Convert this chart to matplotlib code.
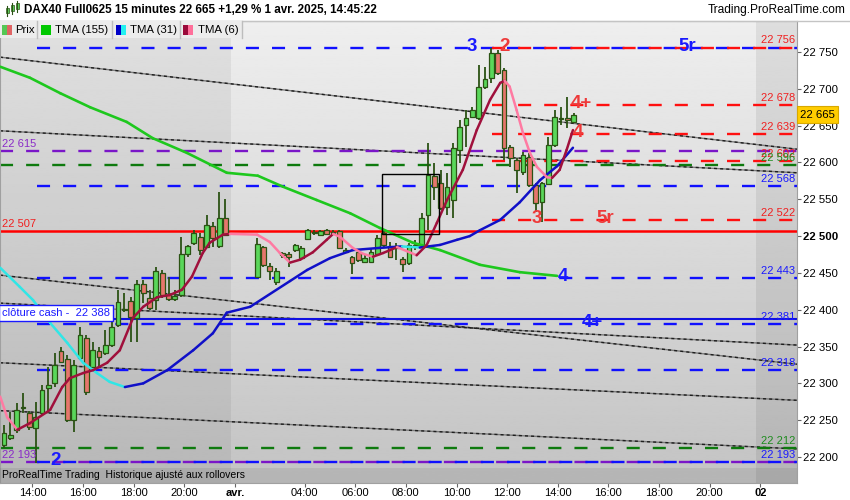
import numpy as np
import matplotlib
matplotlib.use("Agg")
import matplotlib.pyplot as plt
from matplotlib.patches import Rectangle
from matplotlib.lines import Line2D
from matplotlib.collections import LineCollection
import matplotlib.transforms as mtransforms

plt.rcParams["font.family"] = ["Liberation Sans", "DejaVu Sans"]
plt.rcParams["lines.scale_dashes"] = False

# 15 min bars: 0..35 = 31 Mar 13:00-21:45, 36.. = 1 Apr from 01:15 (first 4 empty)
opens = [22216, 22226, 22237, 22267, 22260, 22239, 22260, 22294, 22301, 22344,
         22333, 22250, 22335, 22362, 22322, 22344, 22341, 22352, 22379, 22400,
         22412, 22389, 22435, 22416, 22413, 22450, 22420, 22415, 22420, 22476,
         22491, 22499, 22485, 22514, 22487, 22525,
         None, None, None, None,
         22444, 22485, 22459, 22438, 22477, 22476, 22481, 22470, 22496, 22504,
         22501, 22508, 22505, 22507, 22478, 22472, 22478, 22465, 22465, 22476,
         22504, 22486, 22484, 22469, 22464, 22486, 22488, 22529, 22582, 22572,
         22540, 22549, 22617, 22651, 22662, 22660, 22702, 22715, 22748, 22726,
         22621, 22603, 22587, 22607, 22569, 22546, 22571, 22624, 22659, 22661,
         22655]
highs = [22243, 22261, 22273, 22287, 22262, 22275, 22298, 22322, 22341, 22349,
         22339, 22332, 22377, 22366, 22356, 22349, 22372, 22400, 22427, 22423,
         22417, 22440, 22440, 22427, 22458, 22454, 22445, 22427, 22499, 22488,
         22508, 22504, 22529, 22519, 22560, 22550,
         None, None, None, None,
         22497, 22487, 22463, 22456, 22478, 22478, 22489, 22486, 22510, 22508,
         22508, 22510, 22508, 22508, 22484, 22473, 22481, 22474, 22484, 22502,
         22508, 22492, 22491, 22472, 22491, 22495, 22531, 22626, 22599, 22590,
         22586, 22626, 22658, 22671, 22675, 22732, 22730, 22755, 22753, 22728,
         22624, 22606, 22614, 22613, 22572, 22573, 22635, 22671, 22675, 22689,
         22667]
lows = [22212, 22223, 22233, 22260, 22237, 22192, 22257, 22260, 22295, 22328,
        22248, 22234, 22332, 22284, 22321, 22322, 22339, 22349, 22376, 22397,
        22356, 22356, 22409, 22400, 22400, 22416, 22412, 22412, 22417, 22472,
        22488, 22474, 22484, 22485, 22484, 22500,
        None, None, None, None,
        22443, 22458, 22440, 22434, 22470, 22458, 22478, 22467, 22495, 22501,
        22500, 22501, 22501, 22482, 22477, 22449, 22465, 22463, 22463, 22474,
        22485, 22470, 22468, 22451, 22461, 22481, 22485, 22508, 22549, 22535,
        22529, 22525, 22599, 22621, 22660, 22658, 22700, 22708, 22719, 22603,
        22594, 22558, 22583, 22567, 22533, 22519, 22569, 22621, 22651, 22647,
        22654]
closes = [22233, 22230, 22264, 22268, 22241, 22254, 22291, 22298, 22325, 22329,
          22250, 22325, 22366, 22288, 22345, 22336, 22352, 22376, 22410, 22401,
          22390, 22435, 22423, 22402, 22452, 22420, 22415, 22419, 22476, 22487,
          22504, 22481, 22515, 22497, 22525, 22502,
          None, None, None, None,
          22489, 22461, 22453, 22452, 22474, 22472, 22488, 22484, 22508, 22505,
          22507, 22503, 22504, 22484, 22481, 22463, 22468, 22470, 22478, 22497,
          22488, 22472, 22487, 22462, 22488, 22488, 22525, 22583, 22567, 22538,
          22567, 22620, 22648, 22660, 22671, 22702, 22713, 22749, 22721, 22620,
          22606, 22590, 22610, 22569, 22545, 22572, 22624, 22662, 22661, 22658,
          22665]

# moving averages (bar position, value)
tma155_x = [-0.6, 4.1, 8.9, 13.6, 19.4, 23.5, 28.9, 35.2, 40.1, 44.1, 49.4, 54.7,
            59.4, 64.6, 68.9, 75.2, 81.5, 87.4]
tma155_y = [22730, 22715, 22694, 22675, 22655, 22633, 22613, 22586, 22582, 22567,
            22549, 22531, 22511, 22491, 22481, 22461, 22451, 22446]
tma31_x = [-0.6, 2.5, 4.6, 7.3, 10.0, 12.5, 14.7, 16.7, 19.1, 22.0, 25.8, 29.9,
           33.0, 35.2, 38.9, 45.2, 47.9, 51.5, 55.1, 59.4, 62.9, 65.7, 68.9, 71.6,
           73.6, 75.2, 78.4, 81.5, 84.7, 87.4, 89.9]
tma31_y = [22457, 22431, 22413, 22382, 22355, 22328, 22314, 22302, 22295, 22300,
           22318, 22345, 22368, 22396, 22404, 22439, 22454, 22470, 22481, 22484,
           22486, 22484.5, 22488, 22495, 22500, 22508, 22522, 22546, 22576, 22595,
           22620]
tma6_x = [-0.6, 0.5, 2.1, 4.1, 7.3, 9.2, 10.4, 12.5, 14.1, 16.3, 18.3, 20.4, 22.0,
          24.2, 26.2, 28.1, 29.7, 31.4, 32.5, 34.6, 35.7, 40.0, 42.0, 43.6, 45.2,
          46.8, 48.8, 51.0, 52.0, 53.1, 55.1, 56.7, 58.3, 59.9, 62.1, 64.1, 65.2,
          66.8, 68.4, 70.0, 72.5, 74.7, 76.8, 78.4, 79.1, 79.9, 81.0, 82.0, 83.1,
          84.2, 85.8, 86.6, 87.8, 88.9, 89.9]
tma6_y = [22282, 22254, 22237, 22246, 22264, 22295, 22307, 22314, 22318, 22328,
          22345, 22389, 22404, 22417, 22420, 22427, 22445, 22477, 22491, 22502,
          22503, 22502, 22492, 22477, 22464, 22468, 22478, 22495, 22503, 22499,
          22484, 22476, 22472, 22477, 22485, 22478, 22474, 22488, 22518, 22549,
          22590, 22644, 22685, 22708, 22711, 22703, 22671, 22640, 22613, 22594,
          22580, 22579, 22590, 22617, 22644]

# diagonal trend lines: value at left edge, value at right edge
trend_start = [22743, 22643, 22447, 22409, 22328, 22263]
trend_end = [22618, 22586, 22326, 22352, 22277, 22211]

# horizontal levels
blue_levels = [22756, 22568, 22443, 22381, 22318, 22193]
red_levels = [22756, 22678, 22639, 22602, 22522]
purple_levels = [22615, 22193]
green_levels = [22596, 22212]
pivot_level = 22507
cash_close = 22388
last_price = 22665

right_labels = [(22756, "r"), (22678, "r"), (22639, "r"), (22602, "r"), (22596, "g"),
                (22568, "b"), (22522, "r"), (22443, "b"), (22381, "b"),
                (22318, "b"), (22212, "g"), (22193, "b")]
left_labels = [(22615, "p"), (22507, "r"), (22193, "p")]
wave_labels = [("3", "b", 73.9, 22756), ("2", "r", 79.1, 22756), ("5r", "b", 108, 22756),
               ("4+", "r", 91.2, 22678), ("4", "r", 90.7, 22639), ("3", "r", 84.2, 22522),
               ("5r", "r", 95.0, 22522), ("4", "b", 88.3, 22443), ("4+", "b", 93.0, 22381),
               ("2", "b", 8.1, 22193)]

tick_bars = [4, 12, 20, 28, 36, 47, 55, 63, 71, 79, 87, 95, 103, 111, 119]
tick_labels = ["14:00", "16:00", "18:00", "20:00", "avr.", "04:00", "06:00", "08:00",
               "10:00", "12:00", "14:00", "16:00", "18:00", "20:00", "02"]
day_starts = [36, 119]

COL = {"r": "#f02020", "b": "#1a1aff", "g": "#1e8c1e", "p": "#8a2bc8"}

W, H = 850, 500
def fx(px):
    return px / W
def fy(py):
    return 1 - py / H

fig = plt.figure(figsize=(8.5, 5), dpi=100)
ax = fig.add_axes([0, fy(483), fx(797), fy(21) - fy(483)])
x0, x1 = -0.63, 125.3
y0, y1 = 22164.7, 22792.1
ax.set_xlim(x0, x1)
ax.set_ylim(y0, y1)

# background gradient + darker day bands
grad = np.linspace(0.935, 0.765, 256).reshape(-1, 1)
ax.imshow(grad, extent=[x0, x1, y0, y1], aspect="auto", cmap="gray",
          vmin=0, vmax=1, origin="upper", zorder=0)
ax.axvspan(x0, day_starts[0] - 0.1, color="black", alpha=0.06, lw=0, zorder=0.5)
ax.axvspan(day_starts[1] - 0.1, x1, color="black", alpha=0.07, lw=0, zorder=0.5)

# trend lines
for a, b in zip(trend_start, trend_end):
    ax.plot([x0, x1], [a, b], color="#7a7a7a", lw=1.0, zorder=1)
    ax.plot([x0, x1], [a, b], color="#1e1e1e", lw=1.0, dashes=(2.2, 2.2), zorder=1.1)

dash = (9.4, 9.4)
for v in purple_levels:
    ax.plot([x0, x1], [v, v], color="#7a16c8", lw=1.7, dashes=dash, zorder=2)
for v in green_levels:
    ax.plot([x0, x1], [v, v], color="#0e7a0e", lw=1.7, dashes=dash, zorder=2)
for v in blue_levels:
    ax.plot([5.2, x1], [v, v], color="#1010ff", lw=1.7, dashes=dash, zorder=2.1)
for v in red_levels:
    ax.plot([77.1, x1], [v, v], color="#ff1010", lw=1.7, dashes=dash, zorder=2.2)
ax.axhline(pivot_level, color="#ff0000", lw=1.8, zorder=2.3)
ax.axhline(cash_close, color="#1010e0", lw=1.5, zorder=2.3)

# candles
wick_col = "#2b5214"
for i, (o, h, l, c) in enumerate(zip(opens, highs, lows, closes)):
    if o is None:
        continue
    ax.plot([i, i], [l, h], color=wick_col, lw=1.3, zorder=3, solid_capstyle="butt")
    up = c >= o
    ax.add_patch(Rectangle((i - 0.38, min(o, c)), 0.76, max(abs(c - o), 1.0),
                           facecolor="#5ad75a" if up else "#e6766c",
                           edgecolor=wick_col, lw=0.9, zorder=3.1))

def draw_ma(xs, ys, up_col, down_col, lw):
    pts = np.column_stack([xs, ys])
    segs = np.stack([pts[:-1], pts[1:]], axis=1)
    cols = [up_col if b[1] >= a[1] else down_col for a, b in zip(pts[:-1], pts[1:])]
    ax.add_collection(LineCollection(segs, colors=cols, linewidths=lw, zorder=4,
                                     capstyle="round", joinstyle="round"))

draw_ma(tma155_x, tma155_y, "#1ec81e", "#1ec81e", 1.9)
draw_ma(tma31_x, tma31_y, "#1010c8", "#30e6e6", 1.8)
draw_ma(tma6_x, tma6_y, "#a0103c", "#ff7aa2", 1.8)

# box
ax.add_patch(Rectangle((59.8, 22503.5), 9.0, 81.5, fill=False, edgecolor="black",
                       lw=1.0, zorder=4.5))

# labels on the levels
for v, c in right_labels:
    ax.text(125.0, v + 3, f"{v // 1000} {v % 1000:03d}", color=COL[c], fontsize=8,
            ha="right", va="bottom", zorder=5)
for v, c in left_labels:
    ax.text(-0.3, v + 3, f"{v // 1000} {v % 1000:03d}", color=COL[c], fontsize=8,
            ha="left", va="bottom", zorder=5)
for txt, c, xb, v in wave_labels:
    ax.text(xb, v + 2, txt, color=COL[c] if c == "b" else "#ee3a3a", fontsize=13.5,
            ha="center", va="center", zorder=5, fontweight="bold")
ax.text(-0.3, cash_close + 1, f"clôture cash -  {cash_close // 1000} {cash_close % 1000:03d}",
        color="#1a1aff", fontsize=8, ha="left", va="bottom", zorder=5,
        bbox=dict(boxstyle="square,pad=0.25", facecolor="white", edgecolor="#1a1aff", lw=1))

# bottom strip
ax.add_patch(Rectangle((0, 0), 1, 15 / 462, transform=ax.transAxes, facecolor="black",
                       alpha=0.07, lw=0, zorder=5))
ax.text(0.003, 7.5 / 462, "ProRealTime Trading  Historique ajusté aux rollovers",
        transform=ax.transAxes, fontsize=7.5, va="center", ha="left", zorder=6)

# axes styling
for s in ax.spines.values():
    s.set_color("#a0a0a0")
ax.yaxis.tick_right()
yt = list(range(22200, 22751, 50))
ax.set_yticks(yt)
ax.set_yticklabels([f"{v // 1000} {v % 1000:03d}" for v in yt])
ax.tick_params(axis="y", labelsize=8.2, length=3, color="#666666", pad=1)
for t, v in zip(ax.get_yticklabels(), yt):
    if v == 22500:
        t.set_fontweight("bold")
ax.set_xticks([b + 0.5 for b in tick_bars])
ax.set_xticklabels(tick_labels)
ax.tick_params(axis="x", labelsize=8, length=3, color="#666666", pad=0.5)
for t, lab in zip(ax.get_xticklabels(), tick_labels):
    if lab in ("avr.", "02"):
        t.set_fontweight("bold")

tr = mtransforms.blended_transform_factory(ax.transAxes, ax.transData)
ax.text(1.004, last_price, f"{last_price // 1000} {last_price % 1000:03d}", transform=tr,
        fontsize=8.2, ha="left", va="center", zorder=7, clip_on=False,
        bbox=dict(boxstyle="square,pad=0.3", facecolor="#ffcc00", edgecolor="#d8a800", lw=0.8))

# header
fig.add_artist(Line2D([0, 1], [fy(20.5), fy(20.5)], color="#c4c4c4", lw=1))
fig.text(fx(24), fy(10), "DAX40 Full0625 15 minutes 22 665 +1,29 % 1 avr. 2025, 14:45:22",
         fontsize=8.4, fontweight="bold", va="center", ha="left")
fig.text(fx(846), fy(10), "Trading.ProRealTime.com", fontsize=8.6, va="center", ha="right")
for cx, cb, ct, col in [(7, 13, 8, "#5ad75a"), (12, 11, 5, "#5ad75a"), (17, 9, 3, "#5ad75a")]:
    fig.add_artist(Line2D([fx(cx), fx(cx)], [fy(cb + 3), fy(ct - 2)], color=wick_col, lw=0.8))
    fig.add_artist(Rectangle((fx(cx - 1.5), fy(cb)), fx(3), (cb - ct) / H, facecolor=col,
                             edgecolor=wick_col, lw=0.5))

# legend strip over the plot
fig.add_artist(Rectangle((0, fy(38)), fx(242), 17 / H, facecolor="#ececec",
                         edgecolor="none", zorder=8))
for sx in [37, 112, 180, 242]:
    fig.add_artist(Line2D([fx(sx), fx(sx)], [fy(21), fy(38)], color="#bdbdbd", lw=1, zorder=9))
legend_items = [("Prix", "#55c855", "#e06464", 2, 15),
                ("TMA (155)", "#00c800", "#00c800", 41, 55),
                ("TMA (31)", "#0000c8", "#22f0f0", 116, 130),
                ("TMA (6)", "#9a0a3a", "#ff6f9a", 183, 198)]
for name, c1, c2, sx, tx in legend_items:
    fig.add_artist(Rectangle((fx(sx), fy(35)), fx(5), 10 / H, facecolor=c1, lw=0, zorder=9))
    fig.add_artist(Rectangle((fx(sx + 5), fy(35)), fx(5), 10 / H, facecolor=c2, lw=0, zorder=9))
    fig.text(fx(tx), fy(30), name, fontsize=8.2, va="center", ha="left", zorder=9)

fig.savefig("out.png", dpi=100)
